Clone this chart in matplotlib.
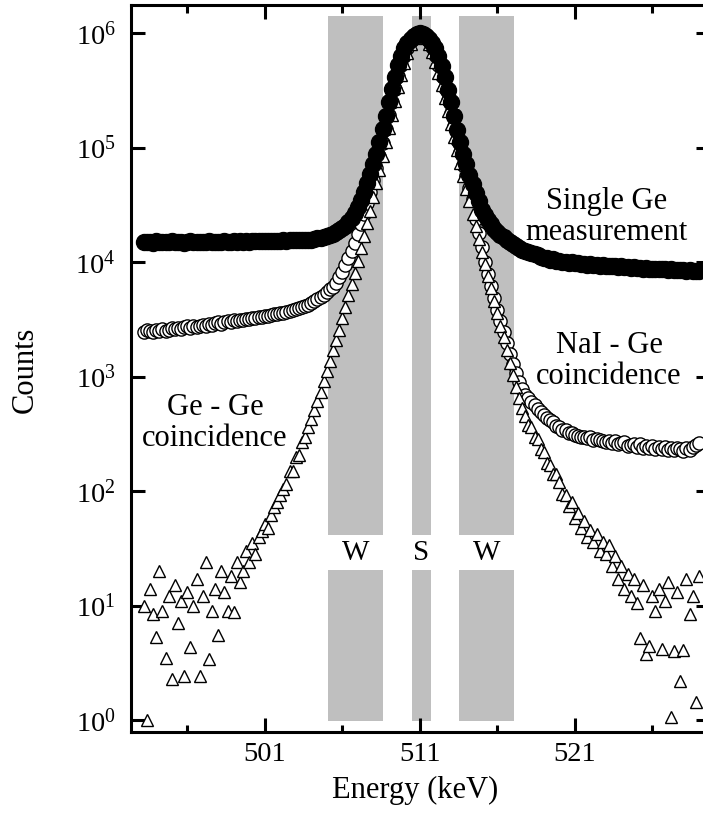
import numpy as np
import matplotlib
matplotlib.use('Agg')
import matplotlib.pyplot as plt
from matplotlib.ticker import FixedLocator, NullLocator, LogFormatterMathtext

plt.rcParams['font.family'] = ['Liberation Serif', 'DejaVu Serif']
plt.rcParams['mathtext.fontset'] = 'custom'
plt.rcParams['mathtext.rm'] = 'Liberation Serif'
plt.rcParams['mathtext.it'] = 'Liberation Serif:italic'
plt.rcParams['mathtext.bf'] = 'Liberation Serif:bold'

# channel energies (keV), 0.2 keV per channel
energy = np.round(np.arange(493.2, 529.01, 0.2), 1)

single_ge = [
    14900, 15100, 15000, 14800, 15200, 15000, 14900, 15100, 15000, 15200,
    14900, 15000, 15100, 14800, 15000, 15200, 15100, 14900, 15000, 15100,
    15000, 15200, 14900, 15100, 15000, 15100, 15300, 15000, 15100, 15200,
    15000, 15200, 15100, 15300, 15100, 15200, 15300, 15200, 15400, 15300,
    15300, 15400, 15300, 15400, 15400, 15500, 15400, 15500, 15500,
    15500, 15600, 15600, 15700, 15800, 15800, 16000, 16200, 16400, 16700,
    17000, 17400, 17800, 18400, 19100, 20000, 20900, 22400, 24500, 26900,
    30200, 34700, 40700, 49000, 58900, 72400, 89100, 112000, 145000, 191000,
    251000, 324000, 417000, 525000, 631000, 741000, 832000, 902000, 955000, 989000,
    1000000,
    988000, 953000, 900000, 830000, 740000, 630000, 520000, 415000, 322000, 250000,
    190000, 144000, 112000, 89000, 72000, 58000, 48000, 40000, 34000, 28800,
    25700, 23400, 21400, 19500, 18200, 17400, 16600, 15800, 15100, 14500,
    13800, 13200, 12900, 12600, 12300, 12000, 11700, 11500, 11200, 11000,
    10800, 10500, 10600, 10300, 10300, 10000, 10100, 9900, 10000, 9750,
    9800, 9650, 9700, 9550, 9600, 9450, 9550, 9350, 9450, 9300,
    9350, 9200, 9300, 9100, 9200, 9050, 9100, 8950, 9050, 8900,
    8950, 8800, 8900, 8750, 8800, 8700, 8750, 8650, 8700, 8600,
    8650, 8550, 8600, 8500, 8550, 8450, 8500, 8400, 8450, 8400,
]

nai_ge = [
    2480, 2550, 2500, 2450, 2560, 2520, 2600, 2530, 2580, 2650,
    2600, 2680, 2620, 2700, 2750, 2680, 2780, 2720, 2800, 2850,
    2780, 2880, 2830, 2920, 2980, 2900, 3000, 3050, 2980, 3100,
    3060, 3150, 3120, 3220, 3180, 3280, 3250, 3350, 3320, 3420,
    3400, 3480, 3520, 3560, 3600, 3620, 3700, 3740, 3800, 3880,
    3950, 4050, 4150, 4250, 4400, 4550, 4750, 4950, 5200, 5500,
    5850, 6100, 6600, 7400, 8300, 9400, 10800, 12500, 14800, 17500,
    21400, 26300, 32700, 40700, 51900, 66100, 85100, 111000, 146000, 193000,
    251000, 327000, 422000, 525000, 638000, 750000, 851000, 933000, 983000,
    1000000,
    983000, 933000, 853000, 754000, 644000, 532000, 428000, 336000, 260000, 201000,
    154000, 118000, 91000, 71300, 56200, 44400, 35600, 24000, 18000, 13500,
    9950, 7850, 6150, 4850, 3850, 3050, 2450, 1950, 1570, 1290,
    1070, 900, 780, 690, 650, 600, 560, 525, 490, 460,
    435, 415, 400,
    370, 360, 345, 340, 325, 320, 310, 305, 300, 298,
    290, 298, 282, 284, 278, 276, 266, 276, 262, 272,
    258, 262, 266, 250, 254, 258, 244, 256, 240, 250,
    238, 248, 234, 244, 232, 242, 230, 240, 228, 238,
    232, 226, 238, 228, 242, 252, 264,
]

ge_ge = [
    10, 1.0, 14, 8.5, 5.3, 20, 9, 3.5, 12, 2.3,
    15, 7, 11, 2.4, 13, 4.3, 10, 17, 2.4, 12,
    24, 3.4, 9, 14, 5.5, 20, 13, 9, 18, 8.8,
    24, 16, 20, 30, 24, 35, 28, 40, 45, 52,
    48, 62, 72, 80, 92, 105,
    115, 150, 150, 200, 205, 270, 295, 360, 430, 510,
    610, 740, 910, 1120, 1380, 1700, 2090, 2570, 3240, 4070,
    5130, 6460, 8130, 10200, 13200, 17000, 21900, 28200, 37200, 49000,
    64600, 85100, 112000, 148000, 195000, 257000, 339000, 437000, 550000, 676000,
    804000, 912000, 977000,
    1000000,
    978000, 915000, 810000, 685000, 560000, 450000, 352000, 272000, 210000, 162000,
    125000, 96000, 74000, 57000, 44000, 34000, 26500, 20600, 16000, 12400,
    9700, 7600, 5900, 4600, 3600, 2800, 2200, 1700, 1320, 1040,
    820, 650, 530, 450, 380, 365, 300, 285, 235, 220,
    175, 170, 140, 140,
    120, 95, 92, 74, 80, 58, 64, 48, 55, 40,
    46, 36, 42, 30, 36, 28, 34, 22, 27, 17,
    22, 14, 19, 12, 17, 10.5, 5.2, 15, 3.8, 4.4,
    12, 9, 14, 4.2, 11, 16, 1.07, 4.0, 13, 2.2,
    4.1, 17, 8.5, 12, 1.45, 18,
]

# energy windows (keV): wing - sum - wing
windows = [(505.05, 508.65), (510.5, 511.7), (513.55, 517.05)]
window_labels = ['W', 'S', 'W']
band_lower = (0.97, 20.5)
band_upper = (41.0, 1.42e6)
window_label_level = 28.5
y_ticks = [1, 10, 100, 1000, 10000, 100000, 1000000]

fig = plt.figure(figsize=(7.03, 8.13), dpi=100)
ax = fig.add_axes([131 / 703, 1 - 732 / 813, 579 / 703, 727 / 813])

for (x0, x1), lab in zip(windows, window_labels):
    for (y0, y1) in (band_lower, band_upper):
        ax.fill_between([x0, x1], [y0, y0], [y1, y1], color='#bfbfbf', lw=0, zorder=0)
    ax.text((x0 + x1) / 2, window_label_level, lab, ha='center', va='center', fontsize=21, zorder=1)

ax.plot(energy, nai_ge, 'o', ms=9.5, mfc='white', mec='black', mew=1, zorder=2)
ax.plot(energy, ge_ge, '^', ms=8.5, mfc='white', mec='black', mew=1, zorder=3)
ax.plot(energy, single_ge, 'o', ms=11.5, mfc='black', mec='black', mew=1, zorder=4)

ax.set_yscale('log')
ax.set_ylim(0.785, 1.77e6)
ax.set_xlim(492.37, 529.72)
ax.xaxis.set_major_locator(FixedLocator([501, 511, 521]))
ax.xaxis.set_minor_locator(FixedLocator([496, 506, 516, 526]))
ax.yaxis.set_major_locator(FixedLocator(y_ticks))
ax.yaxis.set_major_formatter(LogFormatterMathtext())
ax.yaxis.set_minor_locator(NullLocator())

ax.tick_params(which='both', direction='in', top=True, right=True, width=2.2, labelsize=20.5)
ax.tick_params(which='major', length=10)
ax.tick_params(which='minor', length=5.4)
ax.tick_params(axis='x', pad=7)
ax.tick_params(axis='y', pad=11)
for s in ax.spines.values():
    s.set_linewidth(2.2)

ax.set_xlabel('Energy (keV)', fontsize=22)
ax.xaxis.set_label_coords((415 - 131) / 579, (732 - 790) / 727)
ax.xaxis.label.set_va('center')
ax.set_ylabel('Counts', fontsize=22)
ax.yaxis.set_label_coords((25 - 131) / 579, (732 - 370) / 727)
ax.yaxis.label.set_va('center')

ax.text((607 - 131) / 579, (732 - 217) / 727, 'Single Ge\nmeasurement', transform=ax.transAxes,
        ha='center', va='center', fontsize=22, linespacing=1.1, multialignment='center')
ax.text((609 - 131) / 579, (732 - 361) / 727, 'NaI - Ge\ncoincidence', transform=ax.transAxes,
        ha='center', va='center', fontsize=22, linespacing=1.1, multialignment='center')
ax.text((215 - 131) / 579, (732 - 423) / 727, 'Ge - Ge\ncoincidence', transform=ax.transAxes,
        ha='center', va='center', fontsize=22, linespacing=1.1, multialignment='center')

fig.savefig('out.png', dpi=100)
